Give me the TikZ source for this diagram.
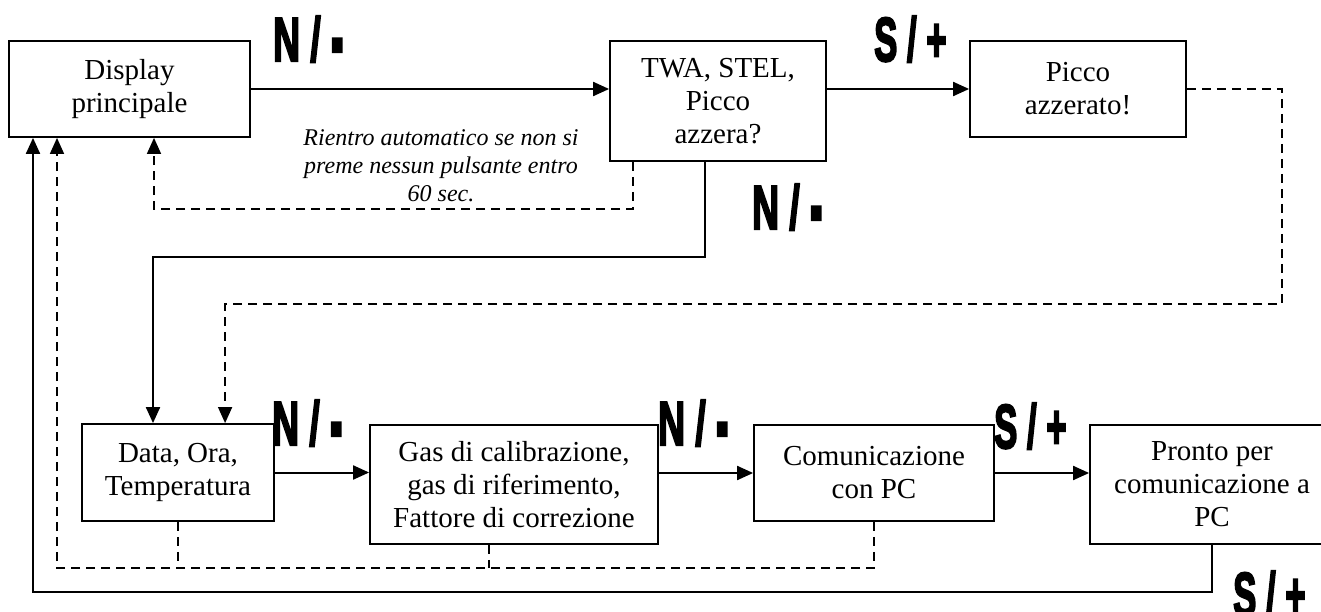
\documentclass[tikz,border=0pt]{standalone}
\usepackage{fontspec}
\setmainfont{Liberation Serif}
\newfontfamily\lblfont[BoldFeatures={FakeBold=4}]{Liberation Sans}
\usetikzlibrary{arrows.meta}
\tikzset{
  box/.style={draw, line width=1.8pt, inner sep=2pt, align=center, font=\fontsize{29}{33}\selectfont},
  conn/.style={line width=2pt},
  dconn/.style={line width=1.5pt, dash pattern=on 9pt off 6pt},
  tip/.style={-{Triangle[length=16pt,width=14pt]}},
  lbl/.style={inner sep=0pt, anchor=base west, font=\lblfont\bfseries\fontsize{62}{62}\selectfont},
  note/.style={align=center, font=\itshape\fontsize{24}{28}\selectfont}
}
\newcommand{\lblN}{\scalebox{0.6}[1]{N / \raisebox{-10pt}{\scalebox{1}[1.6]{-}}}}
\newcommand{\lblS}{\scalebox{0.56}[1]{S / +}}
\begin{document}
\begin{tikzpicture}[x=1pt,y=-1pt]
\useasboundingbox (0,0) rectangle (1321,612);
% boxes
\node[box, minimum width=241pt, minimum height=96pt] (disp) at (129.5,89) {Display\\principale};
\node[box, minimum width=216pt, minimum height=120pt] (twa) at (718,101) {TWA, STEL,\\Picco\\azzera?};
\node[box, minimum width=216pt, minimum height=96pt] (picco) at (1078,89) {Picco\\azzerato!};
\node[box, minimum width=192pt, minimum height=97pt] (data) at (178,472.5) {Data, Ora,\\Temperatura};
\node[box, minimum width=288pt, minimum height=119pt] (gas) at (514,484.5) {Gas di calibrazione,\\gas di riferimento,\\Fattore di correzione};
\node[box, minimum width=240pt, minimum height=96pt] (com) at (874,473) {Comunicazione\\con PC};
\node[box, minimum width=244pt, minimum height=119pt] (pronto) at (1212,484.5) {Pronto per\\comunicazione a\\PC};
% note
\node[note] (note) at (441,166) {Rientro automatico se non si\\preme nessun pulsante entro\\60 sec.};
% coordinates
\coordinate (r1) at (154,209);
\coordinate (r2) at (153,257);
\coordinate (r3) at (1282,304);
\coordinate (r4) at (57,568);
\coordinate (r5) at (33,592);
\coordinate (t1) at ([xshift=24pt]twa.south west);
\coordinate (t2) at ([xshift=96pt]twa.south west);
\coordinate (d1) at ([xshift=144pt]data.north west);
\coordinate (g1) at ([xshift=120pt]gas.south west);
% top row
\draw[conn,tip] (disp.east) -- (disp.east -| twa.west);
\draw[conn,tip] (twa.east |- picco.west) -- (picco.west);
\draw[dconn,tip] (t1) |- (r1) -- (r1 |- disp.south);
\draw[conn,tip] (t2) |- (r2) -- (r2 |- data.north);
\draw[dconn,tip] (picco.east) -| (r3) -| (d1);
% bottom row
\draw[conn,tip] (data.east) -- (data.east -| gas.west);
\draw[conn,tip] (gas.east |- com.west) -- (com.west);
\draw[conn,tip] (com.east) -- (com.east -| pronto.west);
\draw[dconn,tip] (com.south) |- (r4) -- (r4 |- disp.south);
\draw[dconn] (data.south) -- (data.south |- r4);
\draw[dconn] (g1) -- (g1 |- r4);
\draw[conn,tip] (pronto.south) |- (r5) -- (r5 |- disp.south);
% labels
\node[lbl] (l1) at (273,61) {\lblN};
\node[lbl] (l2) at (874,61) {\lblS};
\node[lbl] (l3) at (752,229) {\lblN};
\node[lbl] (l4) at (272,445) {\lblN};
\node[lbl] (l5) at (658,445) {\lblN};
\node[lbl] (l6) at (994,448) {\lblS};
\node[lbl] (l7) at (1233,616) {\lblS};
\end{tikzpicture}
\end{document}
